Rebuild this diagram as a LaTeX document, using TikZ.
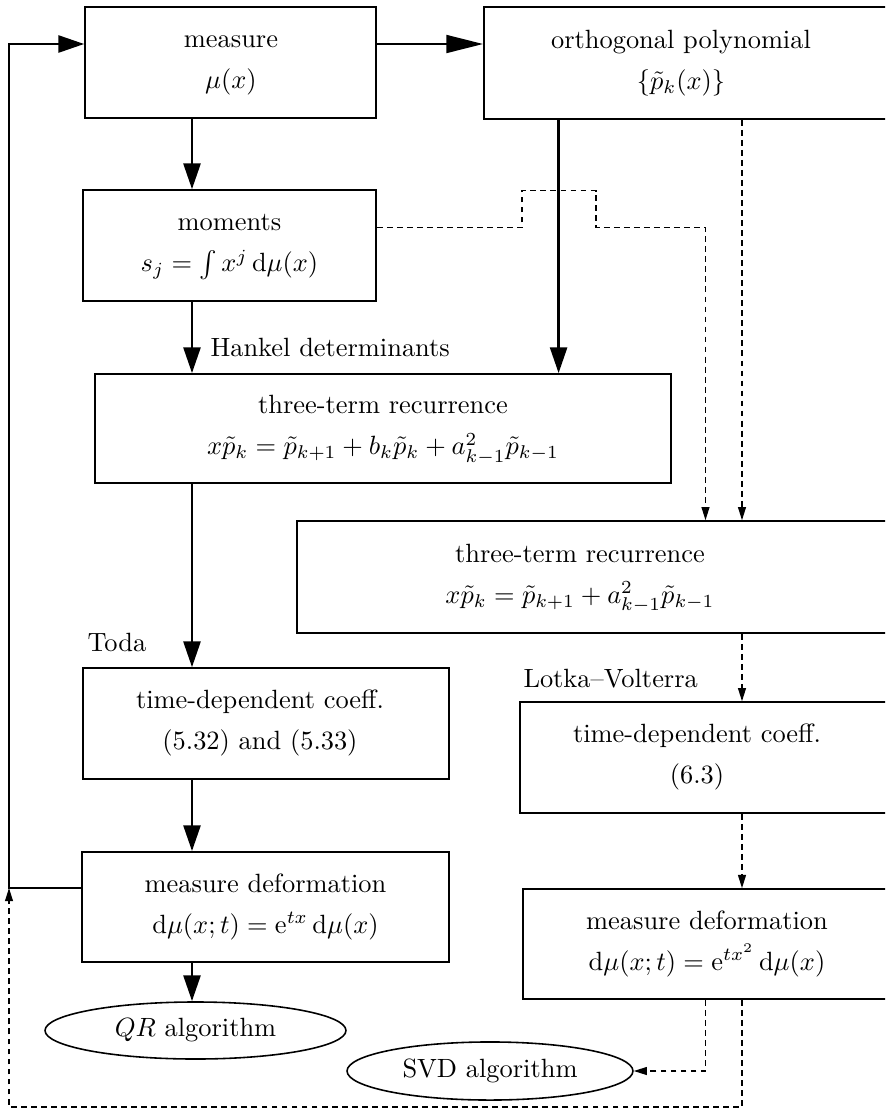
\documentclass[tikz,border=0pt]{standalone}
\usetikzlibrary{arrows.meta,shapes.geometric}
\renewcommand{\arraystretch}{1.3}
\newcommand{\twol}[2]{\begin{tabular}{@{}c@{}}#1\\#2\end{tabular}}
\begin{document}
\begin{tikzpicture}[x=0.3788pt,y=-0.3788pt,
  box/.style={draw, line width=0.6pt, inner sep=0pt, rectangle},
  txt/.style={inner sep=0pt, yshift=1pt},
  lbl/.style={anchor=base west, inner sep=0pt},
  big/.style={line width=1.1pt, -{Triangle[length=9.8pt,width=6.4pt]}},
  bigl/.style={line width=1.1pt, -{Triangle[length=14pt,width=6.7pt]}},
  dsh/.style={line width=0.5pt, dash pattern=on 2.2pt off 1.6pt, -{Triangle[length=5pt,width=3pt]}},
  ell/.style={draw, ellipse, line width=0.6pt, inner sep=0pt}]
\useasboundingbox (0,0) rectangle (885,1110);
\clip (0,0) rectangle (885,1110);

% boxes
\node[box, minimum width=110.2pt, minimum height=42.0pt] (M) at (230.5,62.5) {};
\node[box, minimum width=180.3pt, minimum height=42.4pt] (O) at (722,63) {};
\node[box, minimum width=111.0pt, minimum height=42.0pt] (Mo) at (229.5,245.5) {};
\node[box, minimum width=218.2pt, minimum height=41.3pt] (T1) at (383,428.5) {};
\node[box, minimum width=251.1pt, minimum height=42.4pt] (T2) at (628.5,577) {};
\node[box, minimum width=138.6pt, minimum height=42.0pt] (TD1) at (266,723.5) {};
\node[box, minimum width=139.0pt, minimum height=41.7pt] (MD1) at (265.5,907) {};
\node[box, minimum width=166.7pt, minimum height=42.0pt] (L) at (740,757.5) {};
\node[box, minimum width=165.5pt, minimum height=41.7pt] (MD2) at (741.5,944) {};

% texts in boxes
\node[txt] (Mt) at (231,62.5) {\twol{measure}{$\mu(x)$}};
\node[txt] (Ot) at (681,63) {\twol{orthogonal polynomial}{$\{\tilde p_k(x)\}$}};
\node[txt] (Mot) at (229.5,245.5) {\twol{moments}{$s_j=\int x^j\,\mathrm{d}\mu(x)$}};
\node[txt] (T1t) at (383,428.5) {\twol{three-term recurrence}{$x\tilde p_k=\tilde p_{k+1}+b_k\tilde p_k+a_{k-1}^2\tilde p_{k-1}$}};
\node[txt] (T2t) at (580,577) {\twol{three-term recurrence}{$x\tilde p_k=\tilde p_{k+1}+a_{k-1}^2\tilde p_{k-1}$}};
\node[txt] (TD1t) at (260,723.5) {\twol{time-dependent coeff.}{(5.32) and (5.33)}};
\node[txt] (MD1t) at (265.5,907) {\twol{measure deformation}{$\mathrm{d}\mu(x;t)=\mathrm{e}^{tx}\,\mathrm{d}\mu(x)$}};
\node[txt] (Lt) at (697,757.5) {\twol{time-dependent coeff.}{(6.3)}};
\node[txt] (MD2t) at (707,944) {\twol{measure deformation}{$\mathrm{d}\mu(x;t)=\mathrm{e}^{tx^2}\,\mathrm{d}\mu(x)$}};

% ellipses
\node[ell, minimum width=114.0pt, minimum height=21.6pt] (QR) at (195.5,1030.5) {$QR$ algorithm};
\node[ell, minimum width=108.3pt, minimum height=22.0pt] (SVD) at (490,1071) {SVD algorithm};

% labels
\node[lbl] (hank) at (210,356.7) {Hankel determinants};
\node[lbl] (toda) at (87,651.7) {Toda};
\node[lbl] (lv) at (523,687) {Lotka--Volterra};

% helper coordinates
\coordinate (yA) at (0,44);
\coordinate (yB) at (0,227.7);
\coordinate (xL) at (192,0);
\coordinate (xS) at (558.6,0);
\coordinate (xD1) at (705.5,0);
\coordinate (xD2) at (742,0);
\coordinate (fb) at (9,888);
\coordinate (b1) at (522,190.7);
\coordinate (b2) at (596,190.7);
\coordinate (sv) at (705.5,1071);
\coordinate (bot) at (742,1107);

% solid connectors
\draw[bigl] (M.east |- yA) -- (O.west |- yA);
\draw[big] (MD1.west |- fb) -- (fb) -- (fb |- yA) -- (M.west |- yA);
\draw[big] (xL |- M.south) -- (xL |- Mo.north);
\draw[big] (xL |- Mo.south) -- (xL |- T1.north);
\draw[big] (xL |- T1.south) -- (xL |- TD1.north);
\draw[big] (xL |- TD1.south) -- (xL |- MD1.north);
\draw[big] (xL |- MD1.south) -- (xL |- QR.north);
\draw[big] (xS |- O.south) -- (xS |- T1.north);

% dashed connectors
\draw[dsh] (Mo.east |- yB) -- (b1 |- yB) -- (b1) -- (b2) -- (b2 |- yB) -- (xD1 |- yB) -- (xD1 |- T2.north);
\draw[dsh] (xD2 |- O.south) -- (xD2 |- T2.north);
\draw[dsh] (xD2 |- T2.south) -- (xD2 |- L.north);
\draw[dsh] (xD2 |- L.south) -- (xD2 |- MD2.north);
\draw[dsh] (xD1 |- MD2.south) -- (sv) -- (SVD.east);
\draw[dsh] (xD2 |- MD2.south) -- (bot) -- (fb |- bot) -- (fb);
\end{tikzpicture}
\end{document}
